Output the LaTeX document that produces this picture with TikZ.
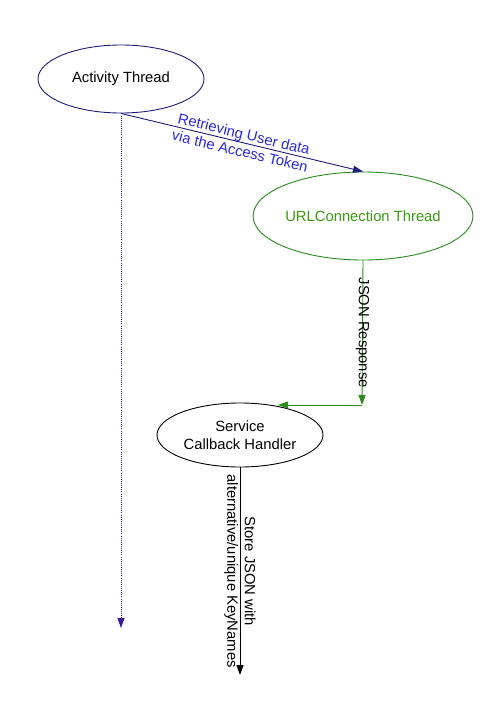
\documentclass[tikz,border=0pt]{standalone}
\usepackage{fontspec}
\setmainfont{Liberation Sans}
\usetikzlibrary{shapes.geometric,arrows.meta}
\definecolor{navy}{HTML}{1E1E7A}
\definecolor{indig}{HTML}{3A1A9A}
\definecolor{lblblue}{HTML}{2B2BD6}
\definecolor{grn}{HTML}{2A8A1E}
\definecolor{grntext}{HTML}{3A9A10}
\tikzset{
  ell/.style={ellipse, draw, line width=0.9pt, inner sep=0pt, align=center,
    font=\fontsize{14.8}{17.5}\selectfont},
  lbl/.style={align=center, inner sep=0pt, font=\fontsize{14.8}{17.5}\selectfont},
  tip/.style={-{Triangle[length=10pt,width=7pt]}},
}
\begin{document}
\begin{tikzpicture}[x=1pt,y=-1pt]
\useasboundingbox[fill=white] (0,0) rectangle (500,707);
\node[ell, draw=navy, minimum width=166pt, minimum height=68pt] (act) at (121,79) {Activity Thread};
\node[ell, draw=grn, text=grntext, minimum width=184pt, minimum height=88pt] (url) at (363,216) {URLConnection Thread};
\node[ell, draw=black, minimum width=166pt, minimum height=64pt] (svc) at (240,435) {Service\\Callback Handler};
\coordinate (actend) at (121,628);
\coordinate (corner) at (362,405);
\coordinate (svcin) at (278,405);
\coordinate (store) at (240,675);
% dotted lifeline
\draw[indig, line width=0.9pt, dash pattern=on 0.9pt off 1.2pt, tip] (act.south) -- (actend);
% retrieving
\draw[navy, line width=0.9pt, tip] (act.south) -- node[lbl, text=lblblue, sloped] {Retrieving User data\\via the Access Token} (url.north);
% JSON response
\draw[grn, line width=0.9pt, tip] (url.south) -- node[lbl, text=black, rotate=-90] {JSON Response} (corner);
\draw[grn, line width=0.9pt, tip] (corner) -- (svcin);
% store
\draw[black, line width=0.9pt, tip] (svc.south) -- node[lbl, rotate=-90] {Store JSON with\\alternative/unique KeyNames} (store);
\end{tikzpicture}
\end{document}
